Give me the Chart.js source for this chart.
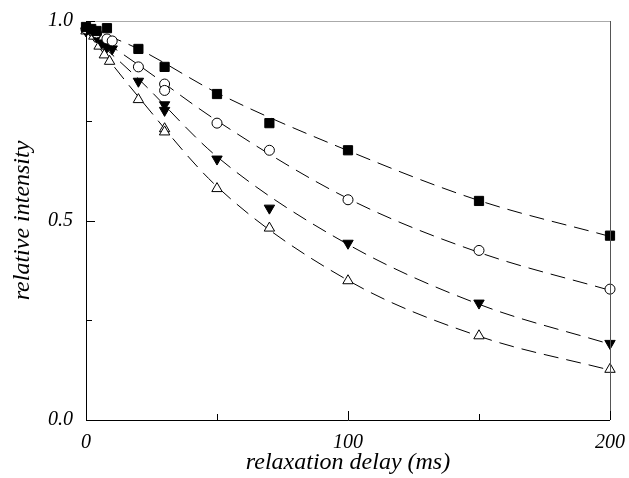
<!DOCTYPE html>
<html>
<head>
<meta charset="utf-8">
<script src="https://cdn.jsdelivr.net/npm/chart.js@4/dist/chart.umd.min.js"></script>
<style>
  html, body { margin: 0; padding: 0; background: #fff; }
  #wrap { width: 629px; height: 478px; }
</style>
</head>
<body>
<div id="wrap"><canvas id="relax" width="629" height="478"></canvas></div>
<script>
// measured points, one array per sample
const squareX = [0, 2, 4, 8, 20, 30, 50, 70, 100, 150, 200];
const squareY = [0.985, 0.98, 0.975, 0.982, 0.930, 0.885, 0.817, 0.744, 0.676, 0.549, 0.462];

const circleX = [0, 4, 8, 10, 20, 30, 30, 50, 70, 100, 150, 200];
const circleY = [0.98, 0.97, 0.955, 0.95, 0.885, 0.842, 0.826, 0.744, 0.676, 0.552, 0.425, 0.328];

const downX = [0, 4, 6, 8, 10, 20, 30, 30, 50, 70, 100, 150, 200];
const downY = [0.975, 0.96, 0.945, 0.935, 0.93, 0.849, 0.79, 0.776, 0.654, 0.531, 0.443, 0.293, 0.192];

const upX = [0, 3, 5, 7, 9, 20, 30, 30, 50, 70, 100, 150, 200];
const upY = [0.975, 0.962, 0.937, 0.915, 0.899, 0.803, 0.73, 0.722, 0.58, 0.481, 0.349, 0.211, 0.127];

// fitted decay curves (dashed)
const fitX = [0, 20, 50, 100, 150, 200];
const fitSquare = [0.985, 0.93, 0.82, 0.675, 0.55, 0.46];
const fitCircle = [0.98, 0.89, 0.75, 0.555, 0.42, 0.325];
const fitDown = [0.975, 0.855, 0.66, 0.44, 0.29, 0.19];
const fitUp = [0.975, 0.81, 0.585, 0.35, 0.21, 0.125];

const xTicks = [0, 100, 200];
const xMinor = [50, 150];
const yTicks = [0, 0.5, 1.0];
const yMinor = [0.25, 0.75];

const pts = (xs, ys) => xs.map((x, i) => ({ x: x, y: ys[i] }));

function fitLine(ys) {
    return {
        type: 'line',
        data: pts(fitX, ys),
        borderColor: '#000',
        borderWidth: 1,
        borderDash: [15, 8],
        pointRadius: 0,
        cubicInterpolationMode: 'monotone',
        fill: false,
        clip: false,
        order: 2
    };
}

function marks(xs, ys, style, fill, radius, rotation) {
    return {
        type: 'scatter',
        data: pts(xs, ys),
        pointStyle: style,
        pointRadius: radius,
        pointRotation: rotation || 0,
        backgroundColor: fill,
        borderColor: '#000',
        borderWidth: 1,
        clip: false,
        order: 1
    };
}

// frame and inward tick marks
const frame = {
    id: 'frame',
    afterDraw(chart) {
        const { ctx, chartArea: a, scales: { x, y } } = chart;
        ctx.save();
        ctx.lineWidth = 1;
        ctx.strokeStyle = '#aaa';
        ctx.beginPath();
        ctx.moveTo(a.left, a.top + 0.5);
        ctx.lineTo(a.right, a.top + 0.5);
        ctx.stroke();
        ctx.strokeStyle = '#555';
        ctx.beginPath();
        ctx.moveTo(a.right + 0.5, a.top);
        ctx.lineTo(a.right + 0.5, a.bottom);
        ctx.stroke();
        ctx.strokeStyle = '#000';
        ctx.beginPath();
        ctx.moveTo(a.left + 0.5, a.top);
        ctx.lineTo(a.left + 0.5, a.bottom + 0.5);
        ctx.lineTo(a.right, a.bottom + 0.5);
        ctx.stroke();
        ctx.beginPath();
        xTicks.concat(xMinor).forEach(v => {
            const px = Math.round(x.getPixelForValue(v)) + 0.5;
            const len = xMinor.includes(v) ? 6 : 9;
            ctx.moveTo(px, a.bottom);
            ctx.lineTo(px, a.bottom - len);
        });
        yTicks.concat(yMinor).forEach(v => {
            const py = Math.round(y.getPixelForValue(v)) + 0.5;
            const len = yMinor.includes(v) ? 6 : 9;
            ctx.moveTo(a.left, py);
            ctx.lineTo(a.left + len, py);
        });
        ctx.stroke();
        ctx.restore();
    }
};

const serif = '"Liberation Serif", "DejaVu Serif", serif';

new Chart(document.getElementById('relax'), {
    data: {
        datasets: [
            fitLine(fitSquare),
            fitLine(fitCircle),
            fitLine(fitDown),
            fitLine(fitUp),
            marks(squareX, squareY, 'rect', '#000', 6.5),
            marks(circleX, circleY, 'circle', '#fff', 5),
            marks(downX, downY, 'triangle', '#000', 6, 180),
            marks(upX, upY, 'triangle', '#fff', 6)
        ]
    },
    options: {
        responsive: false,
        animation: false,
        layout: { padding: { top: 21, right: 19, left: 0, bottom: 0 } },
        plugins: {
            legend: { display: false },
            tooltip: { enabled: false }
        },
        scales: {
            x: {
                type: 'linear',
                min: 0,
                max: 200,
                afterFit(scale) {
                    scale.height = 58;
                    scale.paddingLeft = 0;
                    scale.paddingRight = 0;
                },
                afterBuildTicks(scale) { scale.ticks = xTicks.map(v => ({ value: v })); },
                grid: { display: false, drawTicks: false },
                border: { display: false },
                ticks: {
                    color: '#000',
                    padding: 11,
                    maxRotation: 0,
                    font: { family: serif, size: 20, style: 'italic' }
                },
                title: {
                    display: true,
                    text: 'relaxation delay (ms)',
                    color: '#000',
                    padding: { top: 0, bottom: 1 },
                    font: { family: serif, size: 24, style: 'italic' }
                }
            },
            y: {
                type: 'linear',
                min: 0,
                max: 1,
                afterFit(scale) {
                    scale.width = 86;
                    scale.paddingTop = 0;
                    scale.paddingBottom = 0;
                },
                afterBuildTicks(scale) { scale.ticks = yTicks.map(v => ({ value: v })); },
                grid: { display: false, drawTicks: false },
                border: { display: false },
                ticks: {
                    color: '#000',
                    padding: 13,
                    callback: v => v.toFixed(1),
                    font: { family: serif, size: 20, style: 'italic' }
                },
                title: {
                    display: true,
                    text: 'relative intensity',
                    color: '#000',
                    padding: { top: 8, bottom: 0 },
                    font: { family: serif, size: 24, style: 'italic' }
                }
            }
        }
    },
    plugins: [frame]
});
</script>
</body>
</html>
